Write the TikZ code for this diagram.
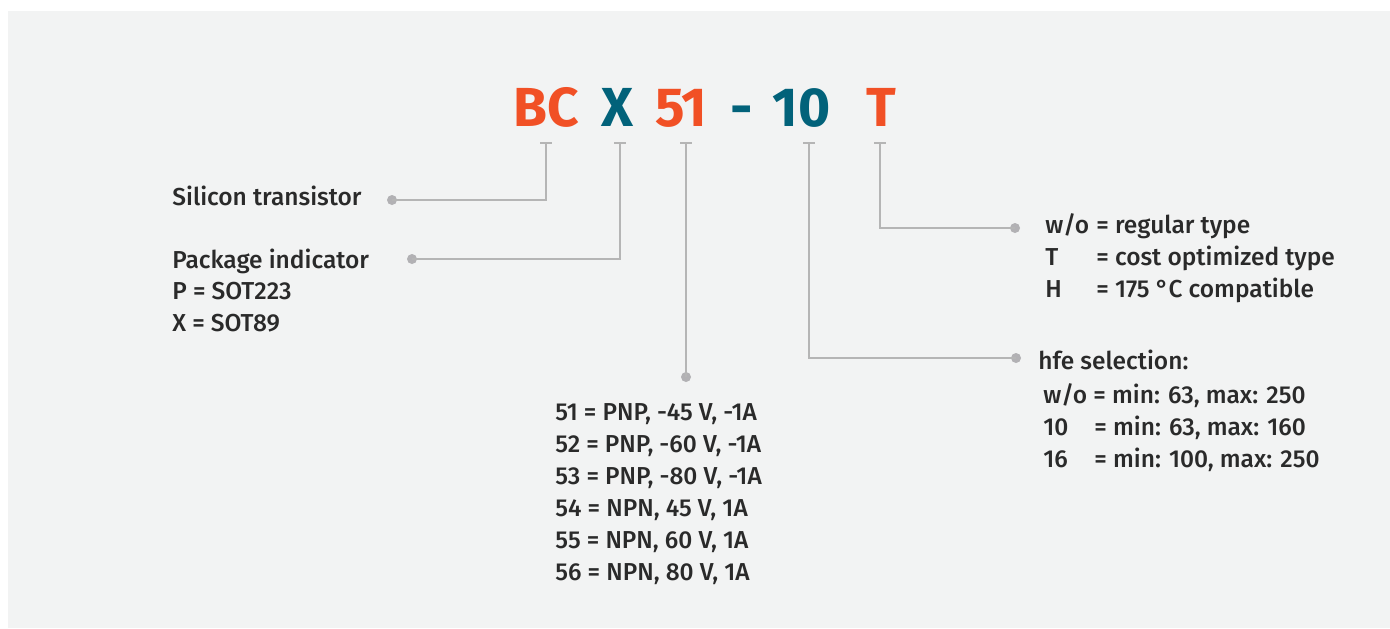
\documentclass[tikz,border=0pt]{standalone}
\usepackage{fontspec}
\setmainfont{Fira Sans}[UprightFont={* Medium},BoldFont={* Bold}]
\definecolor{bgc}{HTML}{F2F3F3}
\definecolor{orng}{HTML}{F15025}
\definecolor{teal}{HTML}{02627A}
\definecolor{lnc}{HTML}{B5B5B5}
\definecolor{dotc}{HTML}{B2B1B4}
\definecolor{txt}{HTML}{2A2A2A}
\tikzset{
  title/.style={font=\fontsize{27.5pt}{27.5pt}\selectfont\bfseries, inner sep=0pt, anchor=base},
  lbl/.style={font=\fontsize{12.25pt}{16pt}\selectfont, text=txt, inner sep=0pt, anchor=base west},
  conn/.style={draw=lnc, line width=1.3pt},
  dotn/.style={circle, fill=dotc, minimum size=5pt, inner sep=0pt},
}
\begin{document}
\begin{tikzpicture}[x=0.5pt,y=-0.5pt]
\useasboundingbox (0,0) rectangle (1390,628);
\fill[bgc] (8,11) rectangle (1390,628);
% title
\node[title, text=orng] (tBC) at (546.5,126) {BC};
\node[title, text=teal] (tX) at (617.5,126) {X};
\node[title, text=orng] (t51) at (681,126) {51};
\node[title, text=teal] (tdash) at (742,126) {-};
\node[title, text=teal] (t10) at (801.5,126) {10};
\node[title, text=orng] (tT) at (881.5,126) {T};
% tick tops
\foreach \n/\x in {a/546,b/620,c/686,d/809,e/880}{
  \coordinate (k\n) at (\x,143);
  \draw[conn] (\x-6,143) -- (\x+6,143);
}
% dots
\node[dotn] (d1) at (392,200) {};
\node[dotn] (d2) at (412,259) {};
\node[dotn] (d3) at (686,377) {};
\node[dotn] (d4) at (1016,358) {};
\node[dotn] (d5) at (1015,228) {};
% connectors
\draw[conn] (ka) |- (d1.center);
\draw[conn] (kb) |- (d2.center);
\draw[conn] (kc) -- (d3.center);
\draw[conn] (kd) |- (d4.center);
\draw[conn] (ke) |- (d5.center);
% left texts
\node[lbl] (l1) at (172,205) {Silicon transistor};
\node[lbl] (l2) at (172,268) {Package indicator};
\node[lbl] (l3) at (172,299) {P = SOT223};
\node[lbl] (l4) at (172,331) {X = SOT89};
% middle
\node[lbl] (m1) at (555,420) {51 = PNP, -45 V, -1A};
\node[lbl] (m2) at (555,452) {52 = PNP, -60 V, -1A};
\node[lbl] (m3) at (555,484) {53 = PNP, -80 V, -1A};
\node[lbl] (m4) at (555,516) {54 = NPN, 45 V, 1A};
\node[lbl] (m5) at (555,548) {55 = NPN, 60 V, 1A};
\node[lbl] (m6) at (555,580) {56 = NPN, 80 V, 1A};
% top right
\node[lbl] (r1a) at (1045,233) {w/o};
\node[lbl] (r1b) at (1096,233) {= regular type};
\node[lbl] (r2a) at (1045,265) {T};
\node[lbl] (r2b) at (1096,265) {= cost optimized type};
\node[lbl] (r3a) at (1045,297) {H};
\node[lbl] (r3b) at (1096,297) {= 175 °C compatible};
% hfe
\node[lbl] (h0) at (1038,369) {hfe selection:};
\node[lbl] (h1a) at (1043,403) {w/o};
\node[lbl] (h1b) at (1093,403) {= min: 63, max: 250};
\node[lbl] (h2a) at (1043,435) {10};
\node[lbl] (h2b) at (1094,435) {= min: 63, max: 160};
\node[lbl] (h3a) at (1043,467) {16};
\node[lbl] (h3b) at (1094,467) {= min: 100, max: 250};
\end{tikzpicture}
\end{document}
